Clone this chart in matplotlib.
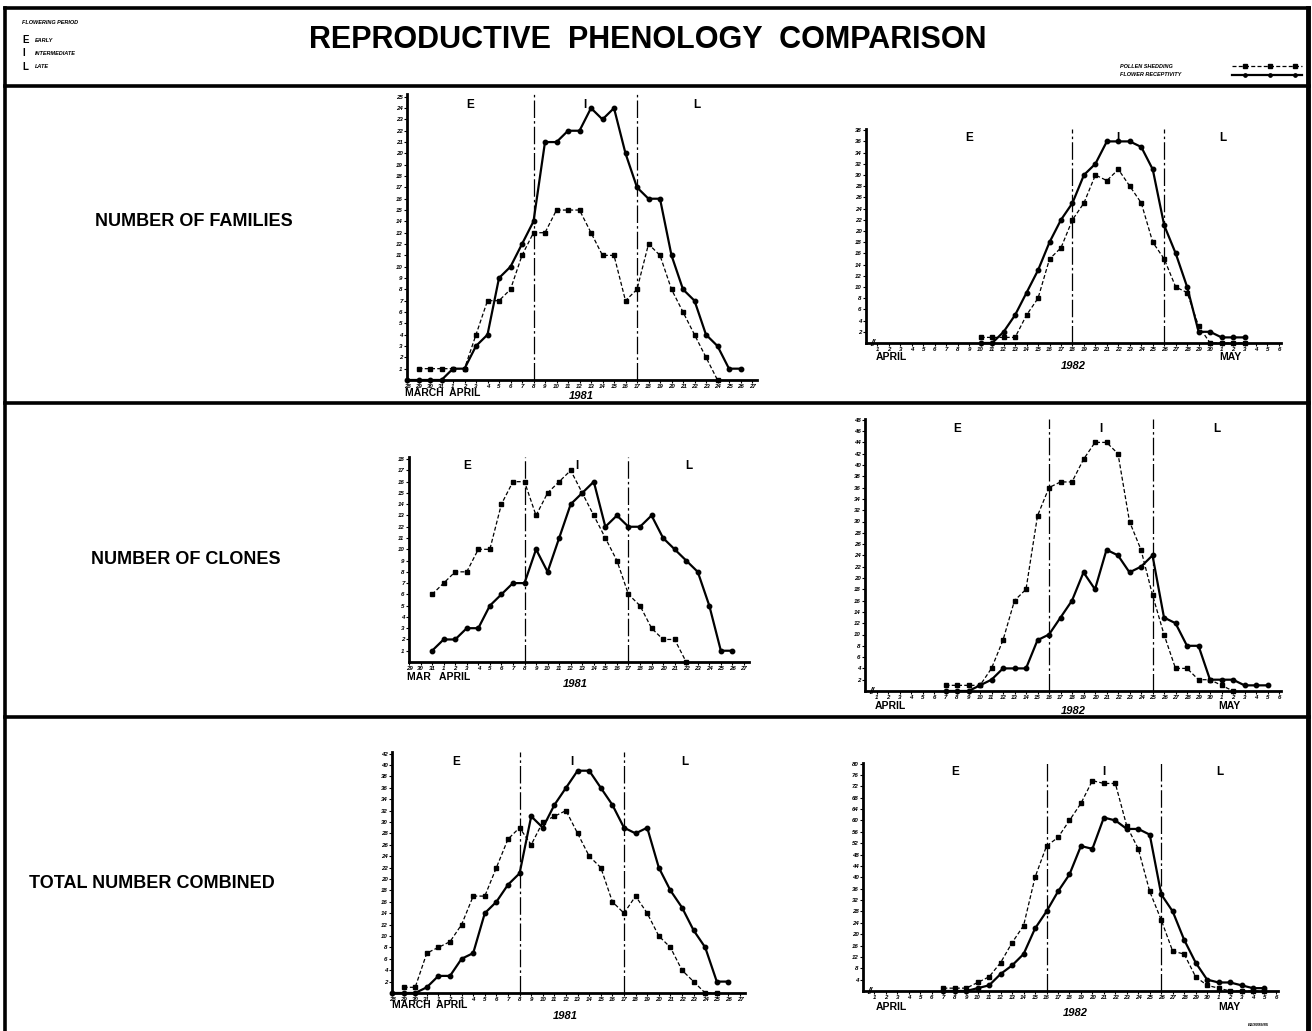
import matplotlib
matplotlib.use("Agg")
import matplotlib.pyplot as plt
import numpy as np
from matplotlib.lines import Line2D

plt.rcParams['font.family'] = ['Liberation Sans', 'DejaVu Sans']

# ---------------- data ----------------
# 1981 x categories (families / total: 28 March .. 27 April)
days81 = ["28", "29", "30", "31", "1", "2", "3", "4", "5", "6", "7", "8", "9", "10",
          "11", "12", "13", "14", "15", "16", "17", "18", "19", "20", "21", "22",
          "23", "24", "25", "26", "27"]
# clones 1981: 29 March .. 27 April
days81_clones = ["29", "30", "31", "1", "2", "3", "4", "5", "6", "7", "8", "9", "10",
                 "11", "12", "13", "14", "15", "16", "17", "18", "19", "20", "21", "22",
                 "23", "24", "25", "26", "27"]
# 1982: 1 April .. 6 May
days82 = ["1", "2", "3", "4", "5", "6", "7", "8", "9", "10", "11", "12", "13", "14",
          "15", "16", "17", "18", "19", "20", "21", "22", "23", "24", "25", "26", "27",
          "28", "29", "30", "1", "2", "3", "4", "5", "6"]

N = None
fam81_pollen = [N, 1, 1, 1, 1, 1, 4, 7, 7, 8, 11, 13, 13, 15, 15, 15, 13, 11, 11, 7,
                8, 12, 11, 8, 6, 4, 2, 0, N, N, N]
fam81_recept = [0, 0, 0, 0, 1, 1, 3, 4, 9, 10, 12, 14, 21, 21, 22, 22, 24, 23, 24, 20,
                17, 16, 16, 11, 8, 7, 4, 3, 1, 1, N]

clo81_pollen = [N, N, 6, 7, 8, 8, 10, 10, 14, 16, 16, 13, 15, 16, 17, 15, 13, 11, 9,
                6, 5, 3, 2, 2, 0, N, N, N, N, N]
clo81_recept = [N, N, 1, 2, 2, 3, 3, 5, 6, 7, 7, 10, 8, 11, 14, 15, 16, 12, 13, 12, 12,
                13, 11, 10, 9, 8, 5, 1, 1, N]

tot81_pollen = [N, 1, 1, 7, 8, 9, 12, 17, 17, 22, 27, 29, 26, 30, 31, 32, 28, 24, 22, 16,
                14, 17, 14, 10, 8, 4, 2, 0, 0, N, N]
tot81_recept = [0, 0, 0, 1, 3, 3, 6, 7, 14, 16, 19, 21, 31, 29, 33, 36, 39, 39, 36, 33,
                29, 28, 29, 22, 18, 15, 11, 8, 2, 2, N]

fam82_pollen = [N, N, N, N, N, N, N, N, N, 1, 1, 1, 1, 5, 8, 15, 17, 22, 25, 30, 29, 31,
                28, 25, 18, 15, 10, 9, 3, 0, 0, 0, 0, N, N, N]
fam82_recept = [N, N, N, N, N, N, N, N, N, 0, 0, 2, 5, 9, 13, 18, 22, 25, 30, 32, 36, 36,
                36, 35, 31, 21, 16, 10, 2, 2, 1, 1, 1, N, N, N]

clo82_pollen = [N, N, N, N, N, N, 1, 1, 1, 1, 4, 9, 16, 18, 31, 36, 37, 37, 41, 44, 44,
                42, 30, 25, 17, 10, 4, 4, 2, 2, 1, 0, N, N, N, N]
clo82_recept = [N, N, N, N, N, N, 0, 0, 0, 1, 2, 4, 4, 4, 9, 10, 13, 16, 21, 18, 25, 24,
                21, 22, 24, 13, 12, 8, 8, 2, 2, 2, 1, 1, 1, N]

tot82_pollen = [N, N, N, N, N, N, 1, 1, 1, 3, 5, 10, 17, 23, 40, 51, 54, 60, 66, 74, 73,
                73, 58, 50, 35, 25, 14, 13, 5, 2, 1, 0, 0, 0, 0, N]
tot82_recept = [N, N, N, N, N, N, 0, 0, 0, 1, 2, 6, 9, 13, 22, 28, 35, 41, 51, 50, 61, 60,
                57, 57, 55, 34, 28, 18, 10, 4, 3, 3, 2, 1, 1, N]

fam81_yticks = [1, 2, 3, 4, 5, 6, 7, 8, 9, 10, 11, 12, 13, 14, 15, 16, 17, 18, 19, 20,
                21, 22, 23, 24, 25]
clo81_yticks = [1, 2, 3, 4, 5, 6, 7, 8, 9, 10, 11, 12, 13, 14, 15, 16, 17, 18]
tot81_yticks = [2, 4, 6, 8, 10, 12, 14, 16, 18, 20, 22, 24, 26, 28, 30, 32, 34, 36, 38,
                40, 42]
fam82_yticks = [2, 4, 6, 8, 10, 12, 14, 16, 18, 20, 22, 24, 26, 28, 30, 32, 34, 36, 38]
clo82_yticks = [2, 4, 6, 8, 10, 12, 14, 16, 18, 20, 22, 24, 26, 28, 30, 32, 34, 36, 38,
                40, 42, 44, 46, 48]
tot82_yticks = [4, 8, 12, 16, 20, 24, 28, 32, 36, 40, 44, 48, 52, 56, 60, 64, 68, 72,
                76, 80]

row_labels = ["NUMBER OF FAMILIES", "NUMBER OF CLONES", "TOTAL NUMBER COMBINED"]
title = "REPRODUCTIVE  PHENOLOGY  COMPARISON"
legend_series = ["POLLEN SHEDDING", "FLOWER RECEPTIVITY"]
legend_period = [("E", "EARLY"), ("I", "INTERMEDIATE"), ("L", "LATE")]

# ---------------- figure ----------------
W, H = 1312, 1031
fig = plt.figure(figsize=(W / 100, H / 100), dpi=100)
fig.patch.set_facecolor('white')


def fx(x):
    return x / W


def fy(y):
    return 1 - y / H


def hline(y, x0=5, x1=1309, lw=2.6):
    fig.add_artist(Line2D([fx(x0), fx(x1)], [fy(y), fy(y)], color='k', lw=lw))


def vline(x, y0=8, y1=1031, lw=2.6):
    fig.add_artist(Line2D([fx(x), fx(x)], [fy(y0), fy(y1)], color='k', lw=lw))


# frame and row separators
hline(8)
hline(86)
hline(403)
hline(717)
vline(5)
vline(1308, lw=3.5)

TICKFONT = dict(fontsize=4.4, fontstyle='italic', fontweight='bold')


def panel(x0, y0, ppx, xmax, ppy, ymax, xlabels, xstart, pollen, recept, yticks,
          splits, year82):
    ax = fig.add_axes([fx(x0), fy(y0), xmax * ppx / W, ymax * ppy / H])
    ax.set_xlim(0, xmax)
    ax.set_ylim(0, ymax)
    ax.patch.set_alpha(0)
    xpos = np.arange(len(xlabels)) + xstart
    p = np.array([np.nan if v is None else v for v in pollen], float)
    r = np.array([np.nan if v is None else v for v in recept], float)
    ax.plot(xpos, p, color='k', lw=0.9, ls=(0, (3.2, 1.8)), marker='s', ms=2.4,
            mfc='k', mec='k', clip_on=False, zorder=3)
    ax.plot(xpos, r, color='k', lw=1.6, ls='-', marker='o', ms=3.2,
            mfc='k', mec='k', clip_on=False, zorder=4)
    for s in splits:
        ax.axvline(s, color='k', lw=0.9, ls=(0, (14, 2.5, 2, 2.5)), zorder=2)
    for side in ('top', 'right'):
        ax.spines[side].set_visible(False)
    for side in ('left', 'bottom'):
        ax.spines[side].set_linewidth(2.0)
    ax.set_xticks(xpos)
    ax.set_xticklabels(xlabels, **TICKFONT)
    ax.set_yticks(yticks)
    ax.set_yticklabels([str(t) for t in yticks], **TICKFONT)
    ax.tick_params(axis='both', length=2, width=0.8, pad=1.2)
    # period letters
    mids = [splits[0] / 2, (splits[0] + splits[1]) / 2, (splits[1] + xmax) / 2]
    for m, letter in zip(mids, ["E", "I", "L"]):
        ax.text(m, ymax * 0.985, letter, ha='center', va='top', fontsize=8.5,
                fontweight='bold')
    if year82:
        ax.text(0.6, 0, "//", ha='center', va='center', fontsize=6.5,
                fontweight='bold', fontstyle='italic')
    return ax


def month_text(x, y, s, size=7.5):
    fig.text(fx(x), fy(y), s, ha='left', va='center', fontsize=size, fontweight='bold')


def year_text(x, y, s):
    fig.text(fx(x), fy(y), s, ha='center', va='center', fontsize=8,
             fontweight='bold', fontstyle='italic')


# Row 1 : families
panel(407, 380, 11.5, 30.4, 11.33, 25.2, days81, 0, fam81_pollen, fam81_recept,
      fam81_yticks, [11, 20], False)
month_text(405, 393, "MARCH  APRIL")
year_text(581, 396, "1981")
panel(866, 343, 11.47, 36.2, 5.6, 38.2, days82, 1, fam82_pollen, fam82_recept,
      fam82_yticks, [18, 26], True)
month_text(876, 357, "APRIL")
month_text(1219, 357, "MAY")
year_text(1073, 366, "1982")

# Row 2 : clones
panel(409, 662, 11.55, 29.4, 11.27, 18.2, days81_clones, 0, clo81_pollen, clo81_recept,
      clo81_yticks, [10, 19], False)
month_text(407, 677, "MAR   APRIL")
year_text(575, 684, "1981")
panel(865, 691, 11.5, 36.2, 5.65, 48.2, days82, 1, clo82_pollen, clo82_recept,
      clo82_yticks, [16, 25], True)
month_text(875, 706, "APRIL")
month_text(1218, 706, "MAY")
year_text(1073, 711, "1982")

# Row 3 : total
panel(392, 993, 11.6, 30.4, 5.7, 42.2, days81, 0, tot81_pollen, tot81_recept,
      tot81_yticks, [11, 20], False)
month_text(392, 1005, "MARCH  APRIL")
year_text(565, 1016, "1981")
panel(863, 991, 11.47, 36.2, 2.843, 80.2, days82, 1, tot82_pollen, tot82_recept,
      tot82_yticks, [16, 26], True)
month_text(876, 1007, "APRIL")
month_text(1218, 1007, "MAY")
year_text(1075, 1013, "1982")

# row labels
for (x, y), s in zip([(194, 222), (186, 560), (152, 883)], row_labels):
    fig.text(fx(x), fy(y), s, ha='center', va='center', fontsize=13, fontweight='bold')

# title
fig.text(fx(648), fy(40), title, ha='center', va='center', fontsize=22,
         fontweight='bold')

# top-left period legend
fig.text(fx(22), fy(23), "FLOWERING PERIOD", ha='left', va='center', fontsize=4,
         fontweight='bold', fontstyle='italic')
for i, (letter, word) in enumerate(legend_period):
    yy = 40 + 13.5 * i
    fig.text(fx(22), fy(yy), letter, ha='left', va='center', fontsize=7, fontweight='bold')
    fig.text(fx(35), fy(yy), word, ha='left', va='center', fontsize=4,
             fontweight='bold', fontstyle='italic')

# top-right series legend
for i, (s, ls, mk, lw) in enumerate(zip(legend_series, [(0, (3.2, 1.8)), '-'],
                                        ['s', 'o'], [0.9, 1.6])):
    yy = 66 + 8.5 * i
    fig.text(fx(1120), fy(yy), s, ha='left', va='center', fontsize=4,
             fontweight='bold', fontstyle='italic')
    fig.add_artist(Line2D([fx(1232), fx(1302)], [fy(yy), fy(yy)], color='k', lw=lw,
                          ls=ls))
    fig.add_artist(Line2D([fx(1245), fx(1270), fx(1295)], [fy(yy)] * 3, color='k',
                          lw=0, marker=mk, ms=2.4))

# tiny reference code bottom right
fig.text(fx(1258), fy(1025), "BJ/8099/85", ha='center', va='center', fontsize=3,
         fontweight='bold', fontstyle='italic')

fig.savefig("out.png", dpi=100, facecolor='white')
